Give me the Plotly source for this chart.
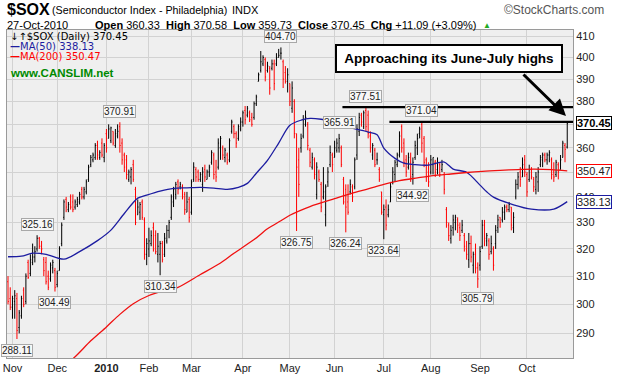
import math
import plotly.graph_objects as go

# ---------------- data ----------------
month_idx = [2, 22, 44, 63, 82, 105, 126, 146, 168, 189, 211, 232]
month_lbl = ["Nov", "Dec", "<b>2010</b>", "Feb", "Mar", "Apr", "May", "Jun", "Jul", "Aug", "Sep", "Oct"]
price_ticks = [290, 300, 310, 320, 330, 340, 350, 360, 370, 380, 390, 400, 410]
hidden_ticks = [350, 370]  # covered by the last-value tags in the reference

open_ = [308, 302, 299, 301, 302, 292, 296, 305, 301, 315, 311, 315, 317, 320, 324, 321, 316, 315, 310, 309,
         313, 312, 307, 312, 322, 332, 339, 335, 340, 338, 336, 337, 338, 343, 340, 342, 347, 353, 355, 356,
         361, 356, 362, 356, 366, 364, 363, 367, 361, 365, 369, 362, 357, 355, 347, 348, 353, 343, 333, 334,
         338, 331, 318, 320, 322, 328, 325, 318, 318, 322, 318, 323, 327, 332, 338, 341, 346, 344, 344, 341,
         334, 339, 334, 347, 351, 350, 347, 345, 351, 347, 350, 354, 357, 350, 352, 360, 360, 356, 357, 355,
         367, 369, 366, 364, 368, 371, 376, 374, 375, 373, 373, 379, 389, 394, 397, 399, 394, 395, 395, 397,
         397, 400, 402, 398, 393, 389, 388, 377, 380, 366, 355, 360, 365, 370, 370, 359, 352, 355, 341, 350,
         345, 340, 333, 346, 353, 357, 356, 359, 360, 360, 347, 343, 338, 342, 344, 344, 357, 367, 374, 369,
         376, 374, 365, 357, 359, 355, 351, 342, 333, 336, 333, 338, 346, 349, 353, 357, 369, 362, 355, 352,
         354, 349, 356, 360, 366, 370, 364, 355, 350, 350, 353, 354, 351, 353, 351, 349, 335, 329, 324, 328,
         330, 331, 328, 327, 325, 320, 316, 322, 314, 318, 313, 314, 321, 329, 323, 323, 319, 320, 322, 328,
         332, 331, 334, 336, 335, 336, 328, 340, 345, 350, 348, 355, 349, 347, 351, 347, 343, 346, 353, 355,
         357, 355, 357, 355, 350, 349, 353, 351, 356, 361, 360.33]
high = [310, 306, 303, 305, 304, 298, 303, 306, 311, 316, 318, 322, 321, 325.16, 324.5, 323, 317, 317, 312, 315,
        316, 313, 312, 321, 330, 339, 340, 338, 341, 341, 339, 340, 342, 344, 344, 347, 353, 357, 358, 362,
        363, 359, 364, 362, 368, 370, 369, 367, 368, 370, 370.91, 364, 358, 357, 351, 352, 355, 344, 339, 338,
        339, 332, 324, 328, 327, 330, 327, 326, 323, 323, 326, 329, 331, 341, 344, 346, 347, 346, 345, 342,
        342, 340, 347, 354, 352, 351, 350, 352, 353, 351, 353, 359, 358, 355, 364, 365, 361, 360, 358, 364,
        372, 370, 367, 370, 373, 376, 378, 378, 376, 375, 380, 383, 393, 403, 401, 400, 398, 396, 399, 399,
        402, 404, 404.70, 399, 396, 395, 388, 389, 381, 366, 360, 366, 374, 376, 371, 360, 358, 356, 354, 351,
        346, 352, 345, 352, 361, 358, 363, 364, 365.91, 361, 348, 345, 345, 347, 345, 356, 370, 375, 375, 376,
        377.51, 376, 367, 362, 360, 358, 352, 342, 337, 339, 337, 346, 352, 355, 358, 367, 370, 364, 357, 358,
        358, 356, 363, 366, 369, 371.04, 365, 356, 354, 357, 356, 355, 356, 354, 355, 350, 336, 330, 329, 333,
        333, 332, 330, 331, 326, 323, 326, 325, 319, 322, 315, 321, 331, 331, 326, 324, 325, 321, 329, 333,
        332, 336, 337, 337, 338, 336, 334, 347, 350, 352, 356, 357, 350, 353, 352, 348, 350, 352, 357, 358,
        358, 358, 359, 356, 354, 355, 354, 357, 363, 362, 370.58]
low = [300, 298, 295, 295, 288.11, 290, 295, 299, 300, 309, 310, 314, 315, 319, 320, 318, 310, 307, 305, 308,
       311, 304.49, 306, 312, 321, 331, 334, 334, 335, 334, 335, 336, 337, 339, 339, 341, 346, 352, 354, 355,
       355, 355, 356, 354, 358, 364, 362, 361, 360, 364, 358, 353, 350, 347, 346, 345, 346, 329, 333, 331,
       331, 316, 314, 317, 321, 319, 318, 315, 310.34, 315, 317, 322, 324, 331, 336, 339, 341, 343, 339, 333,
       334, 330, 333, 346, 346, 346, 346, 342, 346, 347, 348, 353, 347, 346, 351, 355, 355, 354, 353, 354,
       366, 364, 360, 363, 367, 369, 370, 373, 371, 369, 372, 378, 389, 393, 396, 389, 393, 383, 394, 385,
       396, 400, 399, 386, 388, 384, 378, 375, 364, 326.75, 340, 358, 364, 369, 359, 352, 351, 347, 339, 346,
       334, 339, 328.5, 344, 352, 350, 356, 358, 358, 352, 337, 326.24, 333, 341, 338, 343, 355, 365, 369, 368,
       367, 364, 358, 355, 352, 353, 346, 333, 323.64, 327, 332, 338, 345, 346, 352, 356, 358, 352, 348, 351,
       346, 344.92, 355, 357, 364, 358, 352, 346, 344, 349, 349, 348, 349, 348, 350, 341, 328, 323, 322, 325,
       327, 326, 323, 326, 319, 316, 313, 315, 311, 311, 305.79, 312, 320, 321, 321, 316, 318, 312, 320, 326,
       328, 330, 331, 334, 334, 327, 326, 339, 343, 344, 348, 348, 340, 346, 347, 342, 341, 342, 352, 352,
       354, 353, 354, 347, 346, 348, 347, 351, 356, 354, 359.73]
close = [301, 299, 302, 303, 291, 297, 302, 300, 310, 309.5, 316, 317, 319, 324, 321, 320, 312, 308, 306, 314,
         315, 306, 311, 320, 329, 338, 336, 337, 336, 335, 338, 339, 341, 340, 343, 346, 352, 356, 357, 361,
         357, 358, 357, 361, 360, 368, 368.5, 362, 366, 367, 361, 355, 352, 349, 350, 351, 347, 330, 336, 337,
         332, 318, 322, 323, 325, 320, 319, 321, 322, 316, 324, 327, 330, 340, 343, 345, 343, 345, 340, 335,
         338, 332, 346, 352, 348, 347, 349, 350, 348, 350, 352, 358, 349, 348, 362, 364, 357, 359, 354, 363,
         371, 366, 362, 369, 371, 375, 372, 377, 372, 370, 379, 382, 392, 398, 400, 391, 396, 386, 397, 388,
         400, 401, 402, 390, 389, 392, 380, 386, 366, 352, 345, 364, 372, 373, 361, 354, 356, 349, 352, 347,
         336, 342, 344, 350, 358, 353, 360, 362, 364, 353, 338, 336, 334, 345, 340, 355, 368, 373, 371, 375,
         369, 366, 360, 361, 353, 355, 347, 334, 335, 329, 335, 344, 350, 354, 357, 365, 360, 354, 350, 356,
         348, 354, 361, 364, 368, 362, 354, 348, 346, 355, 356, 350, 354, 349, 353, 343, 330, 325, 327, 331,
         332, 329, 325, 329, 321, 318, 322, 317, 318, 313, 309, 319, 329, 324, 325, 318, 322, 314, 327, 331,
         330, 334, 336, 335, 337, 329, 332, 345, 348, 347, 353, 350, 342, 351, 348, 344, 348, 350, 356, 357,
         355, 357, 358, 349, 348, 354, 350, 355, 362, 359.36, 370.45]
prev_close_first = 303

ma50_idx = [0, 6, 11, 17, 25, 32, 40, 46, 52, 58, 62, 68, 74, 80, 86, 92, 98, 103, 107, 111, 116, 121, 126,
            131, 135, 140, 146, 153, 161, 165, 168, 173, 177, 182, 188, 195, 199, 205, 211, 214, 217, 226,
            234, 244, 250]
ma50_val = [317.1, 317.3, 318.4, 318.0, 316.2, 319.0, 323.1, 327.1, 333.5, 339.5, 340.7, 342.3, 343.4, 343.6,
            343.8, 343.5, 343.0, 343.8, 345.4, 349.5, 354.8, 362.0, 369.6, 371.8, 372.6, 372.2, 371.0, 368.6,
            366.7, 365.5, 359.9, 355.6, 353.6, 353.0, 352.8, 354.1, 351.2, 349.9, 344.7, 342.0, 339.9, 336.9,
            335.2, 335.2, 338.13]

ma200_idx = [24, 30, 37, 44, 50, 56, 63, 70, 76, 86, 95, 101, 110, 116, 122, 126, 135, 146, 154, 161, 168,
             175, 183, 190, 198, 205, 212, 220, 228, 235, 243, 250]
ma200_val = [278.5, 282.2, 287.5, 292.2, 296.5, 300.2, 303.1, 304.8, 306.0, 310.6, 314.8, 318.4, 323.5, 327.6,
             330.7, 332.8, 336.2, 339.3, 341.5, 343.2, 345.0, 346.5, 347.6, 348.5, 349.2, 349.8, 350.3, 350.7,
             351.0, 351.2, 351.0, 350.47]

# labelled highs / lows
mark_idx = [4, 13, 21, 50, 68, 122, 129, 148, 151, 160, 168, 181, 185, 210]
mark_val = [288.11, 325.16, 304.49, 370.91, 310.34, 404.70, 326.75, 365.91, 326.24, 377.51, 323.64, 344.92,
            371.04, 305.79]
mark_up = [False, True, False, True, False, True, False, True, False, True, False, False, True, False]

# resistance lines drawn on the chart
res_start = [149.5, 170.5]
res_level = [377.51, 371.04]

# ---------------- figure ----------------
L, R, T, B = 7, 573, 30, 358
W, H = 618, 377


def px(x):
    return (x - L) / (R - L)


def py(y):
    return (B - y) / (B - T)


idx = list(range(len(close)))
up = []
for i in idx:
    pc = prev_close_first if i == 0 else close[i - 1]
    up.append(close[i] >= pc)

fig = go.Figure()
for flag, col in [(True, "#000000"), (False, "#FF0000")]:
    sel = [i for i in idx if up[i] == flag]
    fig.add_trace(go.Ohlc(
        x=sel,
        open=[open_[i] for i in sel], high=[high[i] for i in sel],
        low=[low[i] for i in sel], close=[close[i] for i in sel],
        increasing=dict(line=dict(color=col, width=1)),
        decreasing=dict(line=dict(color=col, width=1)),
        tickwidth=0.35, showlegend=False, hoverinfo="skip"))

fig.add_trace(go.Scatter(x=ma50_idx, y=ma50_val, mode="lines",
                         line=dict(color="#1C1CA0", width=1.3, shape="spline", smoothing=0.8),
                         showlegend=False, hoverinfo="skip"))
fig.add_trace(go.Scatter(x=ma200_idx, y=ma200_val, mode="lines",
                         line=dict(color="#F01010", width=1.3, shape="spline", smoothing=0.8),
                         showlegend=False, hoverinfo="skip"))

x_hi = len(close) - 1 + (R - 0.5 - (8 + 2.235 * (len(close) - 1))) / 2.235
for s, lv in zip(res_start, res_level):
    fig.add_trace(go.Scatter(x=[s, x_hi], y=[lv, lv], mode="lines",
                             line=dict(color="#000000", width=2.2),
                             showlegend=False, hoverinfo="skip"))

ann = []
FONT = "Liberation Sans, Arial, sans-serif"
NARROW = "Liberation Sans Narrow, Arial Narrow, sans-serif"
for i, v, u in zip(mark_idx, mark_val, mark_up):
    ann.append(dict(x=i, y=math.log10(v), xref="x", yref="y", text=f"{v:.2f}", showarrow=False,
                    xanchor="center", yanchor="middle",
                    yshift=11 if u else -11, font=dict(family=FONT, size=10, color="#222"),
                    bgcolor="#F7F7F7", bordercolor="#A8A8A8", borderwidth=1, borderpad=0))

# last value tags on the right axis
for v, bc, tc, bold in [(370.45, "#000000", "#000000", True), (350.47, "#FF0000", "#222", False),
                        (338.13, "#1C1CA0", "#222", False)]:
    t = f"<b>{v:.2f}</b>" if bold else f"{v:.2f}"
    ann.append(dict(x=px(576), y=math.log10(v), xref="paper", yref="y", xanchor="left", yanchor="middle",
                    text=t, showarrow=False, font=dict(family=FONT, size=11, color=tc),
                    bgcolor="#FFFFFF", bordercolor=bc, borderwidth=1, borderpad=0))

# header texts
hdr = [
    dict(x=px(5), y=py(10), text="<b>$SOX</b>", font=dict(family=FONT, size=16, color="#000")),
    dict(x=px(50), y=py(10.5), text="(Semiconductor Index - Philadelphia)", font=dict(family=NARROW, size=10.7, color="#000")),
    dict(x=px(230), y=py(10.5), text="INDX", font=dict(family=NARROW, size=11, color="#000")),
    dict(x=px(606), y=py(10), xanchor="right", text="©StockCharts.com", font=dict(family=FONT, size=12, color="#555")),
    dict(x=px(5), y=py(25), text="27-Oct-2010", font=dict(family=FONT, size=11, color="#000")),
    dict(x=px(478), y=py(25), xanchor="right",
         text="<b>Open</b> 360.33  <b>High</b> 370.58  <b>Low</b> 359.73  <b>Close</b> 370.45  <b>Chg</b> +11.09 (+3.09%)",
         font=dict(family=FONT, size=11, color="#000")),
    dict(x=px(481), y=py(25), text="▲", font=dict(family=FONT, size=8, color="#22AA22")),
    dict(x=px(8), y=py(36), text="↓↑$SOX (Daily) 370.45", font=dict(family="DejaVu Sans", size=10, color="#000")),
    dict(x=px(8), y=py(46.5), text="<b>—</b>MA(50) 338.13", font=dict(family="DejaVu Sans", size=10, color="#1C1CA0")),
    dict(x=px(8), y=py(57), text="<b>—</b>MA(200) 350.47", font=dict(family="DejaVu Sans", size=10, color="#FF0000")),
    dict(x=px(8), y=py(73), text="<b>www.CANSLIM.net</b>", font=dict(family=FONT, size=11.5, color="#008A00")),
]
for a in hdr:
    a.update(xref="paper", yref="paper", showarrow=False, yanchor="middle")
    a.setdefault("xanchor", "left")
ann += hdr

# callout box + arrow
ann.append(dict(x=px(449), y=py(58.5), xref="paper", yref="paper", showarrow=False,
                xanchor="center", yanchor="middle",
                text="<b>Approaching its June-July highs</b>", font=dict(family=FONT, size=13.5, color="#000"),
                bgcolor="#FFFFFF", bordercolor="#000000", borderwidth=2, borderpad=5, width=214))
ann.append(dict(x=px(566), y=py(116), xref="paper", yref="paper", ax=-44, ay=-43,
                axref="pixel", ayref="pixel", text="", showarrow=True, arrowhead=2, arrowsize=1.1,
                arrowwidth=3, arrowcolor="#000000"))

fig.update_layout(
    template="none",
    width=W, height=H, margin=dict(l=L, r=W - R, t=T, b=H - B, autoexpand=False),
    paper_bgcolor="#FFFFFF", plot_bgcolor="#EFEFEF",
    font=dict(family=FONT),
    annotations=ann, showlegend=False,
    xaxis=dict(range=[-0.45, x_hi], tickvals=month_idx, ticktext=month_lbl, showgrid=True,
               gridcolor="#D2D2D2", gridwidth=1, zeroline=False, showline=True, mirror=True,
               linecolor="#9A9A9A", linewidth=1, ticks="", automargin=False,
               tickfont=dict(family=FONT, size=11, color="#222"),
               rangeslider=dict(visible=False), fixedrange=True),
    yaxis=dict(type="log", range=[math.log10(281.8), math.log10(413)], side="right",
               tickvals=price_ticks,
               ticktext=["" if t in hidden_ticks else str(t) for t in price_ticks], showgrid=True,
               gridcolor="#D2D2D2", gridwidth=1, zeroline=False, showline=True, mirror=True,
               linecolor="#9A9A9A", linewidth=1, ticks="", automargin=False,
               tickfont=dict(family=FONT, size=11, color="#222"), fixedrange=True),
)

fig.write_html("out.html", config={"staticPlot": True},
               post_script="document.body.style.margin='0px';document.body.style.overflow='hidden';")
